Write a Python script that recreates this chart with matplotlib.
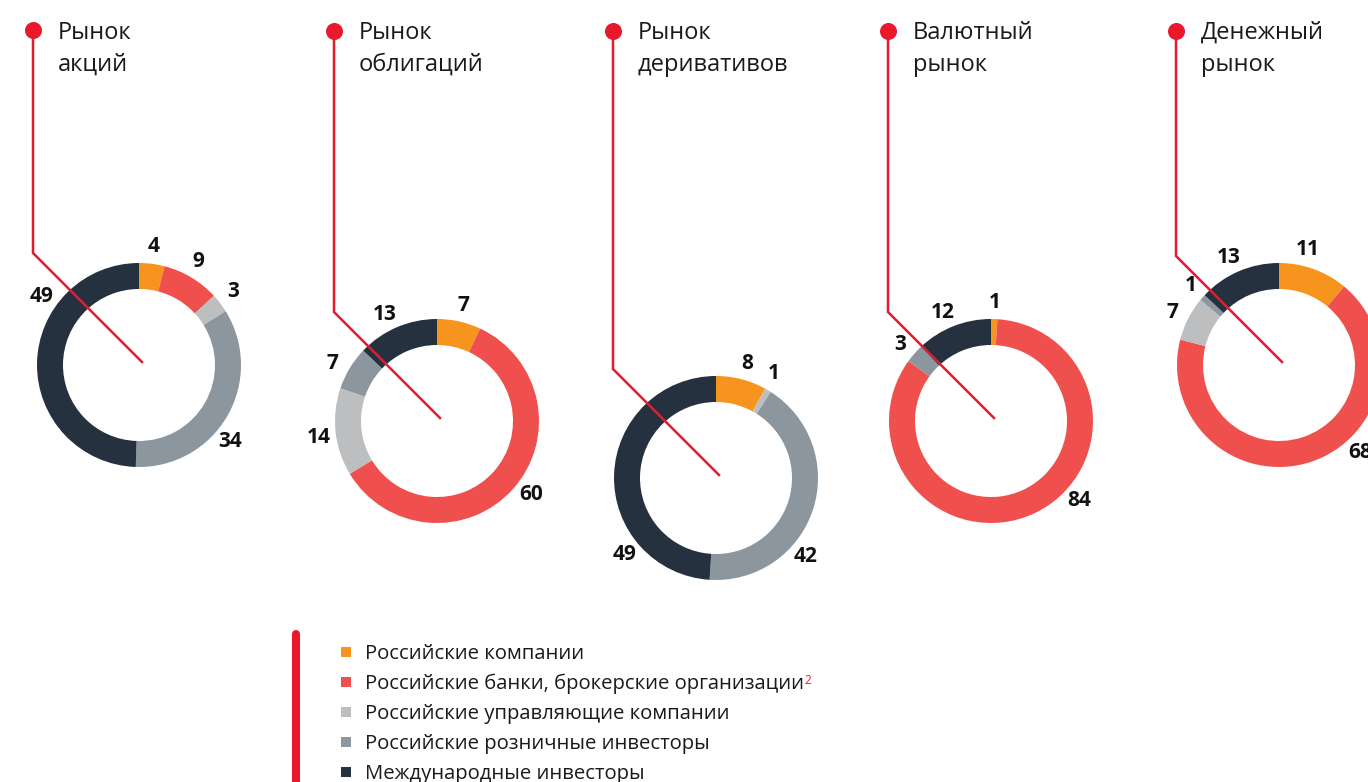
import numpy as np
import matplotlib.pyplot as plt

plt.rcParams['font.family'] = ['Open Sans', 'DejaVu Sans']

# data
markets = ['Рынок\nакций', 'Рынок\nоблигаций', 'Рынок\nдеривативов', 'Валютный\nрынок', 'Денежный\nрынок']
groups = ['Российские компании',
          'Российские банки, брокерские организации',
          'Российские управляющие компании',
          'Российские розничные инвесторы',
          'Международные инвесторы']
companies = [4, 7, 8, 1, 11]
banks = [9, 60, 0, 84, 68]
managers = [3, 14, 1, 0, 7]
retail = [34, 7, 42, 3, 1]
foreign = [49, 13, 49, 12, 13]

colors = ['#F7941D', '#F0504D', '#BDBEC0', '#8C969F', '#25313F']
RED = '#E8192C'

# layout, pixels from the top-left corner
W, H = 1368, 782
centers = [(139, 365), (437, 421), (716, 478), (991, 421), (1279, 365)]
dots = [(33, 30), (334, 31), (613, 31), (888, 31), (1176, 31)]
# angle of each value label, clockwise from 12 o'clock
label_angles = [[7, 30, 52, 130, 305],
                [13, 128, 262, 299, 334],
                [15, 0, 29, 131, 230],
                [2, 132, 0, 310, 336],
                [14, 137, 296, 312, 335]]
R, RING, RLAB = 102, 26, 119

fig = plt.figure(figsize=(W / 100, H / 100), dpi=100)
ax = fig.add_axes([0, 0, 1, 1])

for i, name in enumerate(markets):
    vals = [companies[i], banks[i], managers[i], retail[i], foreign[i]]
    cx, cy = centers[i]
    ax.pie(vals, center=(cx, H - cy), radius=R, startangle=90, counterclock=False,
           colors=colors, frame=True,
           wedgeprops=dict(width=RING, linewidth=0))

    # value labels
    for v, a in zip(vals, label_angles[i]):
        if v == 0:
            continue
        t = np.radians(a)
        ax.text(cx + RLAB * np.sin(t), H - cy + RLAB * np.cos(t), str(v),
                ha='center', va='center', fontsize=15, fontweight='bold', color='#111111')

    # pointer line from title dot to the donut centre
    dx, dy = dots[i]
    ex, ey = cx + 3, cy - 3
    by = ey - (ex - dx)
    ax.plot([dx, dx, ex], [H - dy, H - by, H - ey], color=RED, lw=1.8, zorder=5,
            solid_joinstyle='miter')
    ax.scatter([dx], [H - dy], s=150, color=RED, zorder=6, linewidths=0)

    for j, line in enumerate(name.split('\n')):
        ax.text(dx + 25, H - (39 + 32 * j), line, ha='left', va='baseline',
                fontsize=17, color='#1a1a1a')

# legend
ax.plot([296, 296], [H - 634, -20], color=RED, lw=5.8, solid_capstyle='round')
for k, g in enumerate(groups):
    yb = 659 + 30 * k
    ax.scatter([345.5], [H - (yb - 7)], marker='s', s=44, color=colors[k], linewidths=0)
    txt = ax.text(365, H - yb, g, ha='left', va='baseline', fontsize=14.6, color='#1a1a1a')
    if k == 1:
        ax.annotate('2', xy=(1, 1), xycoords=txt, xytext=(0, 0), textcoords='offset points',
                    ha='left', va='top', fontsize=8.5, color=RED)

ax.set_xlim(0, W)
ax.set_ylim(0, H)
ax.set_aspect('auto')
ax.axis('off')

fig.savefig('out.png', dpi=100)
